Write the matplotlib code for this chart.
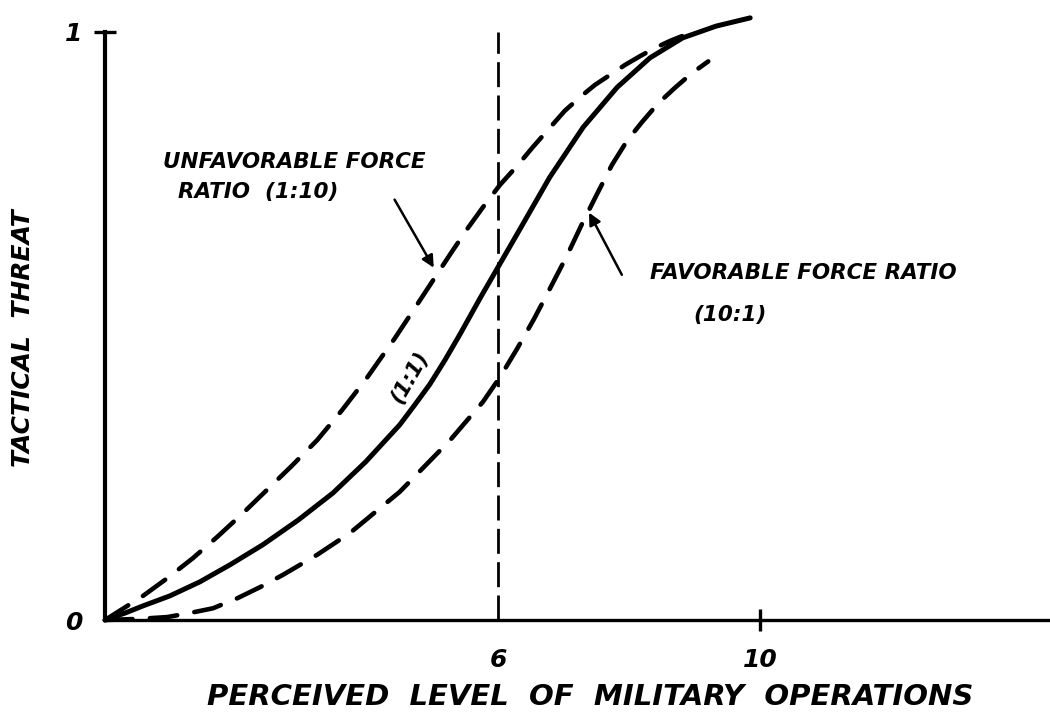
import numpy as np
from matplotlib import pyplot as plt

# perceived level of military operations vs tactical threat
x_even = [0, 0.31, 0.58, 0.99, 1.45, 1.91, 2.41, 2.95, 3.48, 3.98, 4.50, 4.73, 4.96, 5.19, 5.42, 5.73,
          6.29, 6.79, 7.30, 7.82, 8.32, 8.82, 9.33, 9.85]
y_even = [0, 0.012, 0.024, 0.041, 0.065, 0.094, 0.128, 0.170, 0.216, 0.269, 0.332, 0.366, 0.401, 0.442, 0.486, 0.548,
          0.656, 0.753, 0.838, 0.906, 0.956, 0.990, 1.010, 1.024]

x_unfav = [0, 0.27, 0.58, 0.95, 1.34, 1.71, 2.09, 2.47, 2.85, 3.24, 3.62, 4.00, 4.43, 4.81, 5.04, 5.27,
           5.53, 5.77, 6.03, 6.29, 6.53, 6.79, 7.02, 7.25, 7.48, 7.71, 7.94, 8.17, 8.40, 8.63, 8.81]
y_unfav = [0, 0.019, 0.041, 0.071, 0.105, 0.141, 0.180, 0.221, 0.262, 0.306, 0.357, 0.412, 0.480, 0.544, 0.583, 0.622,
           0.665, 0.702, 0.740, 0.772, 0.804, 0.837, 0.866, 0.889, 0.910, 0.927, 0.944, 0.959, 0.973, 0.985, 0.993]

x_fav = [0, 0.53, 0.95, 1.30, 1.65, 2.02, 2.37, 2.72, 3.24, 3.74, 4.50, 5.27, 5.77, 6.03, 6.29, 6.55,
         6.79, 7.05, 7.28, 7.51, 7.74, 7.97, 8.20, 8.44, 8.70, 8.96, 9.21]
y_fav = [0, 0.002, 0.005, 0.012, 0.020, 0.037, 0.056, 0.077, 0.111, 0.148, 0.218, 0.306, 0.371, 0.413, 0.461, 0.512,
         0.563, 0.619, 0.673, 0.724, 0.774, 0.815, 0.847, 0.878, 0.905, 0.930, 0.950]

ref_x = 6
x_ticks = [6, 10]
x_ticklabels = ['6', '10']
y_ticks = [0, 1]
y_ticklabels = ['0', '1']

font = dict(family='DejaVu Sans', style='italic', weight='bold')

fig = plt.figure(figsize=(10.5, 7.12), dpi=100)
ax = fig.add_axes([0.1, 0.1292, 0.9, 0.8589])
ax.set_xlim(0, 945 / 65.5)
ax.set_ylim(0, 1.04)

ax.plot(x_even, y_even, color='black', lw=3.6, solid_capstyle='round', solid_joinstyle='round', clip_on=False)
ax.plot(x_unfav, y_unfav, color='black', lw=3.3, dashes=(6, 3.8), dash_capstyle='round',
        dash_joinstyle='round', clip_on=False)
ax.plot(x_fav, y_fav, color='black', lw=3.3, dashes=(6, 3.8), dash_capstyle='round',
        dash_joinstyle='round', clip_on=False)
ax.vlines(ref_x, 0, 1, color='black', lw=2.0, linestyles=(0, (9, 3)))

for s in ['top', 'right']:
  ax.spines[s].set_visible(False)
ax.spines['left'].set_bounds(0, 1)
ax.spines['left'].set_linewidth(3.0)
ax.spines['bottom'].set_linewidth(2.4)

ax.set_xticks(x_ticks)
ax.set_xticklabels(x_ticklabels, fontsize=18, **font)
ax.tick_params(axis='x', direction='inout', length=16, width=2.4, pad=12)
ax.xaxis.get_major_ticks()[0].tick1line.set_visible(False)

ax.set_yticks(y_ticks)
ax.set_yticklabels(y_ticklabels, fontsize=18, **font)
ax.tick_params(axis='y', direction='inout', length=16, width=2.4, pad=8)
ax.yaxis.get_major_ticks()[0].tick1line.set_visible(False)

ax.text(0.885, 0.779, 'UNFAVORABLE FORCE', fontsize=15.5, ha='left', va='center', **font)
ax.text(1.11, 0.728, 'RATIO  (1:10)', fontsize=15.5, ha='left', va='center', **font)
ax.annotate('', xy=(5.04, 0.595), xytext=(4.40, 0.719),
            arrowprops=dict(arrowstyle='-|>', color='black', lw=1.8, mutation_scale=18))

ax.text(8.32, 0.590, 'FAVORABLE FORCE RATIO', fontsize=15.5, ha='left', va='center', **font)
ax.text(9.54, 0.519, '(10:1)', fontsize=15.5, ha='center', va='center', **font)
ax.annotate('', xy=(7.37, 0.697), xytext=(7.91, 0.583),
            arrowprops=dict(arrowstyle='-|>', color='black', lw=1.8, mutation_scale=18))

ax.text(4.65, 0.413, '(1:1)', fontsize=15, rotation=60, ha='center', va='center', **font)

fig.text(0.022, 0.525, 'TACTICAL  THREAT', fontsize=18, rotation=90, ha='center', va='center', **font)
fig.text(0.562, 0.021, 'PERCEIVED  LEVEL  OF  MILITARY  OPERATIONS', fontsize=21, ha='center', va='center', **font)

fig.savefig('out.png', dpi=100)
